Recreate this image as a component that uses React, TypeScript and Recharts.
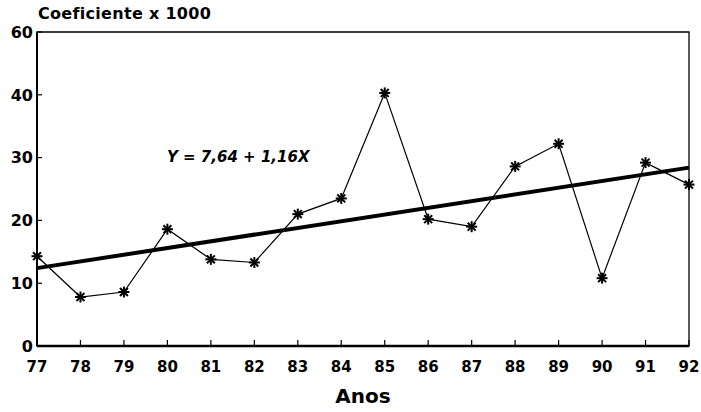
import { LineChart, Line, XAxis, YAxis, ReferenceArea } from "recharts"

const years = [77, 78, 79, 80, 81, 82, 83, 84, 85, 86, 87, 88, 89, 90, 91, 92]
const coef = [14.3, 7.8, 8.6, 18.6, 13.8, 13.3, 21, 23.5, 40.3, 20.2, 19, 28.6, 32.2, 10.8, 29.2, 25.7]
// trend line, read at both ends only
const trendEnds: Record<number, number> = { 77: 12.4, 92: 28.4 }
const yTicks = [0, 10, 20, 30, 40, 50]
const yTickLabels = ["0", "10", "20", "30", "40", "60"]

const data = years.map((year, i) => ({
  year,
  coef: coef[i],
  trend: trendEnds[year],
}))

const font = "'DejaVu Sans', Verdana, sans-serif"

function Asterisk(props: any) {
  const { cx, cy } = props
  if (cx == null || cy == null) return null
  const r = 5.5
  const d = r * 0.72
  return (
    <g stroke="#000" strokeWidth={2}>
      <line x1={cx} y1={cy - r} x2={cx} y2={cy + r} />
      <line x1={cx - d} y1={cy - d} x2={cx + d} y2={cy + d} />
      <line x1={cx - d} y1={cy + d} x2={cx + d} y2={cy - d} />
      <line x1={cx - r} y1={cy} x2={cx + r} y2={cy} />
    </g>
  )
}

function YTick(props: any) {
  const { x, y, payload } = props
  const i = yTicks.indexOf(payload.value)
  return (
    <g>
      <line x1={x + 4} y1={y} x2={x + 9} y2={y} stroke="#000" strokeWidth={1.2} />
      <text x={x} y={y} dy="0.36em" textAnchor="end" fontFamily={font} fontWeight="bold" fontSize={16} fill="#000">
        {yTickLabels[i]}
      </text>
    </g>
  )
}

function XTick(props: any) {
  const { x, y, payload } = props
  return (
    <g>
      <line x1={x} y1={y - 15} x2={x} y2={y - 21} stroke="#000" strokeWidth={1.2} />
      <text x={x} y={y} dy="0.71em" textAnchor="middle" fontFamily={font} fontWeight="bold" fontSize={15} fill="#000">
        {payload.value}
      </text>
    </g>
  )
}

export default function App() {
  return (
    <div style={{ position: "absolute", left: 0, top: 0, width: 701, height: 412, background: "#fff" }}>
      <LineChart width={701} height={412} data={data} margin={{ top: 32, right: 12, left: 0, bottom: 0 }}>
        <XAxis
          dataKey="year"
          type="number"
          domain={[77, 92]}
          ticks={years}
          interval={0}
          tickSize={0}
          tickMargin={15}
          tick={<XTick />}
          height={66}
          axisLine={{ stroke: "#000", strokeWidth: 2.5 }}
          label={{ value: "Anos", position: "insideBottom", offset: 9, fontFamily: font, fontWeight: "bold", fontSize: 20, fill: "#000" }}
        />
        <YAxis
          domain={[0, 50]}
          ticks={yTicks}
          interval={0}
          width={37}
          tickSize={0}
          tickMargin={4}
          tick={<YTick />}
          axisLine={{ stroke: "#000", strokeWidth: 2 }}
        />
        <ReferenceArea x1={77} x2={92} y1={0} y2={50} fill="none" stroke="#000" strokeWidth={1.3} />
        <Line
          dataKey="trend"
          connectNulls
          stroke="#000"
          strokeWidth={4}
          dot={false}
          isAnimationActive={false}
        />
        <Line
          dataKey="coef"
          stroke="#000"
          strokeWidth={1.2}
          dot={<Asterisk />}
          activeDot={false}
          isAnimationActive={false}
        />
      </LineChart>
      <div style={{ position: "absolute", left: 38, top: 4, fontFamily: font, fontWeight: "bold", fontSize: 16, letterSpacing: 0.3, color: "#000", whiteSpace: "nowrap" }}>
        Coeficiente x 1000
      </div>
      <div style={{ position: "absolute", left: 167, top: 148, fontFamily: font, fontWeight: "bold", fontStyle: "italic", fontSize: 15, color: "#000", whiteSpace: "nowrap" }}>
        Y = 7,64 + 1,16X
      </div>
    </div>
  )
}
